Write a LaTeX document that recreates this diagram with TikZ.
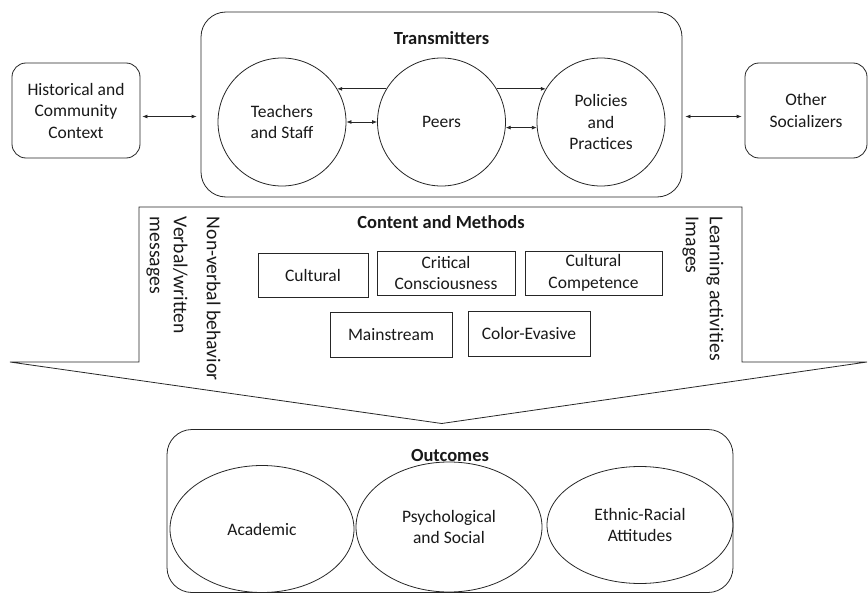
\documentclass[tikz,border=0pt]{standalone}
\usepackage{fontspec}
\setmainfont{Carlito}
\usetikzlibrary{arrows.meta,shapes.geometric,calc}
\begin{document}
\begin{tikzpicture}[x=1pt,y=-1pt,
  line width=0.8pt, draw=black!85,
  every node/.style={text=black!90, font=\fontsize{17.5}{21.5}\selectfont},
  rbox/.style={draw=black!85, rounded corners=14pt, align=center, inner sep=0pt},
  circ/.style={draw=black!85, circle, minimum size=128pt, inner sep=0pt, align=center},
  sqbox/.style={draw=black!85, align=center, inner sep=0pt, minimum height=44pt},
  oval/.style={draw=black!85, ellipse, inner sep=0pt, align=center},
  vtext/.style={rotate=-90, anchor=north west, inner sep=0pt, align=left, font=\fontsize{19.7}{24}\selectfont},
  ttl/.style={font=\fontsize{18.5}{22}\selectfont\bfseries},
  dbl/.style={{Latex[length=5pt,width=4pt]}-{Latex[length=5pt,width=4pt]}},
  sgl/.style={-{Latex[length=5pt,width=4pt]}}
]
\useasboundingbox (0,0) rectangle (868,594);

% Transmitters row
\node[rbox, minimum width=128pt, minimum height=95pt] (hist) at (76,110.5) {Historical and\\Community\\Context};
\node[rbox, rounded corners=25pt, minimum width=481pt, minimum height=185pt] (trans) at (441.5,104.5) {};
\node[ttl] (transT) at (441.5,38) {Transmitters};
\node[circ] (teach) at (282,122) {Teachers\\and Staff};
\node[circ] (peers) at (441.5,122) {Peers};
\node[circ] (pol) at (601,122) {Policies\\and\\Practices};
\node[rbox, minimum width=122pt, minimum height=95pt] (other) at (806,110.5) {Other\\Socializers};

\draw[dbl] ($(hist.east)+(2,6)$) -- ($(trans.west)+(-4,12)$);
\draw[dbl] ($(trans.east)+(3,12)$) -- ($(other.west)+(-3,6)$);
\draw[sgl] (peers.149) -- (teach.31);
\draw[sgl] (peers.31) -- (pol.149);
\draw[dbl] (teach.east) -- (peers.west);
\draw[dbl] (peers.-5) -- (pol.185);

% Content and Methods arrow shape
\draw[line join=miter] (139,207) -- (742,207) -- (742,362) -- (867,362) -- (441.7,423.5) -- (10,362) -- (139,362) -- cycle;
\node[ttl] (cmT) at (441,222) {Content and Methods};
\node[sqbox, minimum width=110pt] (cult) at (313,275.7) {Cultural};
\node[sqbox, minimum width=138pt] (crit) at (446,273) {Critical\\Consciousness};
\node[sqbox, minimum width=137pt] (comp) at (593.5,273) {Cultural\\Competence};
\node[sqbox, minimum width=122pt, minimum height=45pt] (mainst) at (391,334.5) {Mainstream};
\node[sqbox, minimum width=122pt, minimum height=45pt] (colev) at (529,333.5) {Color-Evasive};

\node[vtext] (verb) at (188,216.5) {Verbal/written\\messages};
\node[vtext] (nonv) at (221,216.5) {Non-verbal behavior};
\node[vtext] (learn) at (724,216.5) {Learning activities\\Images};

% Outcomes
\node[rbox, rounded corners=25pt, minimum width=566pt, minimum height=163pt] (outc) at (450,511) {};
\node[ttl] (outT) at (450,455) {Outcomes};
\node[oval, minimum width=184pt, minimum height=127pt] (acad) at (262,529) {Academic};
\node[oval, minimum width=186pt, minimum height=130pt] (psych) at (449,527) {Psychological\\and Social};
\node[oval, minimum width=186pt, minimum height=117pt] (eth) at (640,525) {Ethnic-Racial\\Attitudes};
\end{tikzpicture}
\end{document}
